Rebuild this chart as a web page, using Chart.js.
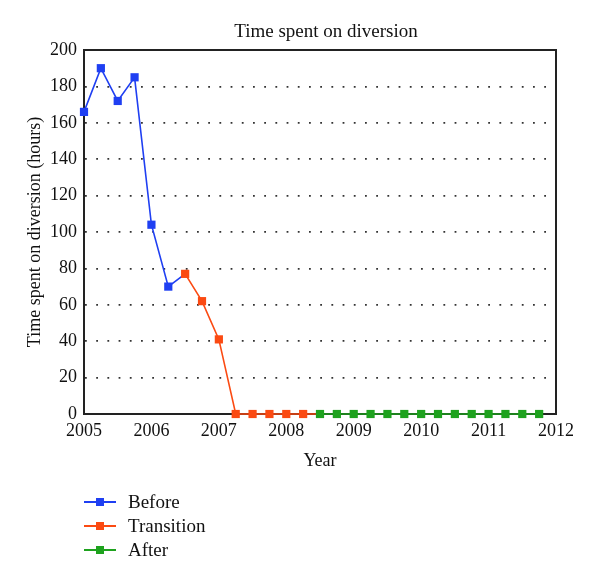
<!DOCTYPE html>
<html>
<head>
<meta charset="utf-8">
<script src="https://cdn.jsdelivr.net/npm/chart.js@4.4.0/dist/chart.umd.min.js"></script>
<style>
  html, body { margin: 0; padding: 0; background: #fff; }
  #wrap { position: relative; width: 600px; height: 584px; font-family: "Liberation Serif", "DejaVu Serif", serif; color: #111; }
  #chart { position: absolute; left: 0; top: 0; }
  #title { position: absolute; left: 0; width: 652px; top: 20px; text-align: center; font-size: 19px; line-height: 22px; }
  #legend { position: absolute; left: 84px; top: 490px; font-size: 19px; }
  .item { height: 24px; display: flex; align-items: center; }
  .sym { position: relative; width: 32px; height: 24px; margin-right: 12px; }
  .sym .ln { position: absolute; left: 0; top: 11px; width: 32px; height: 2px; }
  .sym .mk { position: absolute; left: 12px; top: 8px; width: 8px; height: 8px; }
</style>
</head>
<body>
<div id="wrap">
  <canvas id="chart" width="600" height="584"></canvas>
  <div id="title">Time spent on diversion</div>
  <div id="legend"></div>
</div>
<script>
const seriesNames = ["Before", "Transition", "After"];
const seriesColors = ["#1f3ff2", "#fb4a12", "#1ea21e"];
const beforeYears = [2005, 2005.25, 2005.5, 2005.75, 2006, 2006.25];
const beforeHours = [166, 190, 172, 185, 104, 70];
const transitionYears = [2006.5, 2006.75, 2007, 2007.25, 2007.5, 2007.75, 2008, 2008.25];
const transitionHours = [77, 62, 41, 0, 0, 0, 0, 0];
const afterYears = [2008.5, 2008.75, 2009, 2009.25, 2009.5, 2009.75, 2010, 2010.25, 2010.5, 2010.75, 2011, 2011.25, 2011.5, 2011.75];
const afterHours = [0, 0, 0, 0, 0, 0, 0, 0, 0, 0, 0, 0, 0, 0];
const xTicks = [2005, 2006, 2007, 2008, 2009, 2010, 2011, 2012];
const yTicks = [0, 20, 40, 60, 80, 100, 120, 140, 160, 180, 200];

function pts(xs, ys) { return xs.map((x, i) => ({ x: x, y: ys[i] })); }
// each phase's line continues to the first point of the next phase (connector without marker)
const groups = [
  { xs: beforeYears, ys: beforeHours, next: { x: transitionYears[0], y: transitionHours[0] } },
  { xs: transitionYears, ys: transitionHours, next: { x: afterYears[0], y: afterHours[0] } },
  { xs: afterYears, ys: afterHours, next: null }
];
const datasets = groups.map((g, k) => {
  const data = pts(g.xs, g.ys);
  if (g.next) data.push(g.next);
  const n = g.xs.length;
  return {
    label: seriesNames[k],
    data: data,
    borderColor: seriesColors[k],
    backgroundColor: seriesColors[k],
    borderWidth: 1.6,
    pointStyle: 'rect',
    pointRadius: data.map((_, i) => i < n ? 5.8 : 0),
    pointHoverRadius: data.map((_, i) => i < n ? 5.8 : 0),
    pointBorderWidth: 0,
    tension: 0,
    clip: false,
    order: groups.length - 1 - k
  };
});

const font = { family: "'Liberation Serif', 'DejaVu Serif', serif", size: 18 };

const framePlugin = {
  id: 'frame',
  beforeDatasetsDraw(chart) {
    const { ctx, chartArea: a } = chart;
    ctx.save();
    ctx.strokeStyle = '#222';
    ctx.lineWidth = 2;
    ctx.strokeRect(a.left, a.top, a.right - a.left, a.bottom - a.top);
    ctx.restore();
  }
};

const ch = new Chart(document.getElementById('chart'), {
  type: 'line',
  data: { datasets: datasets },
  options: {
    responsive: false,
    animation: false,
    layout: { padding: { left: 0, right: 44, top: 50, bottom: 110 } },
    plugins: { legend: { display: false }, title: { display: false }, tooltip: { enabled: false } },
    scales: {
      x: {
        type: 'linear', min: 2005, max: 2012,
        afterBuildTicks(s) { s.ticks = xTicks.map(v => ({ value: v })); },
        afterFit(s) { s.height = 60; s.paddingLeft = 0; s.paddingRight = 0; },
        grid: { display: false, drawTicks: false },
        border: { display: true, color: '#222', width: 2 },
        ticks: { padding: 6, color: '#111', font: font, autoSkip: false, maxRotation: 0, callback: v => String(v) },
        title: { display: true, text: 'Year', color: '#111', font: font, padding: { top: 0, bottom: 2 } }
      },
      y: {
        min: 0, max: 200,
        afterBuildTicks(s) { s.ticks = yTicks.map(v => ({ value: v })); },
        afterFit(s) { s.width = 84; s.paddingTop = 0; s.paddingBottom = 0; },
        grid: {
          drawTicks: false,
          color: ctx => (ctx.tick && (ctx.tick.value === 0 || ctx.tick.value === 200)) ? 'rgba(0,0,0,0)' : '#333',
          lineWidth: 1.7
        },
        border: { display: true, color: '#222', width: 2, dash: [1.8, 9.4], dashOffset: 0 },
        ticks: { padding: 7, color: '#111', font: font, autoSkip: false },
        title: { display: true, text: 'Time spent on diversion (hours)', color: '#111', font: font, padding: { top: 24, bottom: 0 } }
      }
    }
  },
  plugins: [framePlugin]
});

// HTML legend built from the datasets
const legend = document.getElementById('legend');
ch.data.datasets.forEach(ds => {
  const it = document.createElement('div');
  it.className = 'item';
  it.innerHTML = '<div class="sym"><div class="ln" style="background:' + ds.borderColor + '"></div><div class="mk" style="background:' + ds.borderColor + '"></div></div><span>' + ds.label + '</span>';
  legend.appendChild(it);
});
</script>
</body>
</html>
